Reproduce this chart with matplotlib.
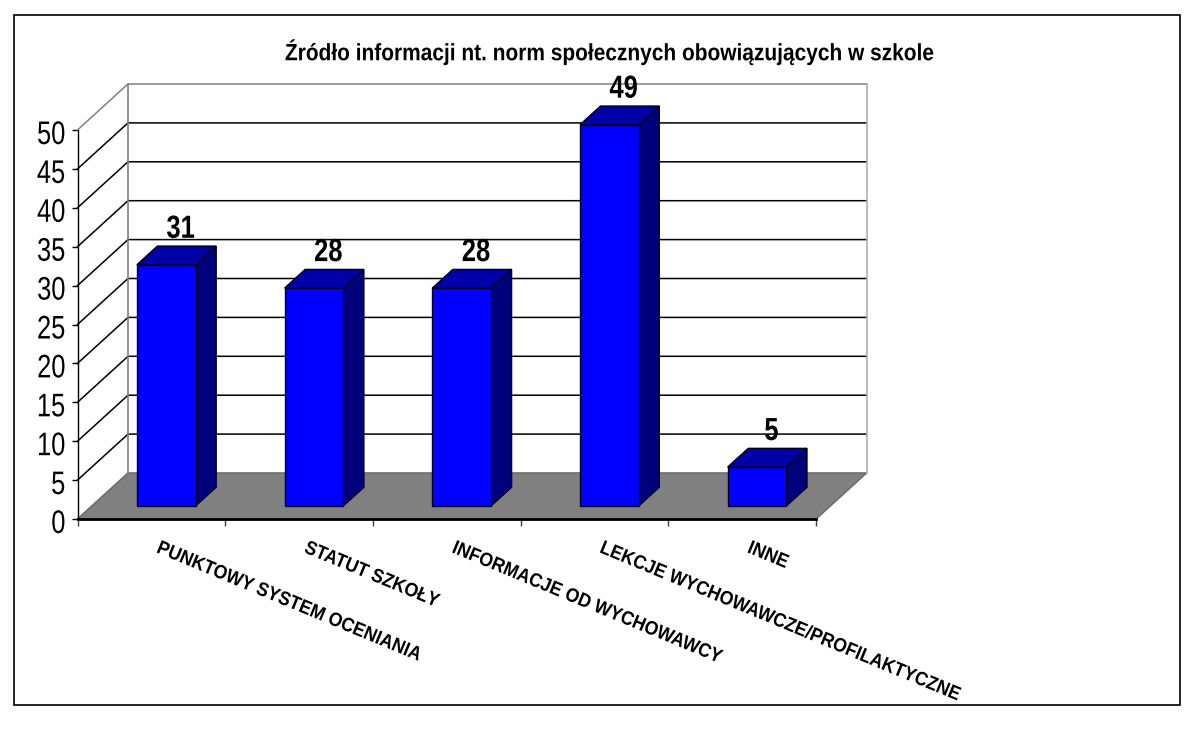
#!/usr/bin/env python
# -*- coding: UTF-8 -*-
import matplotlib
matplotlib.use('Agg')
import matplotlib.pyplot as plt
from matplotlib.patches import Polygon, Rectangle
from matplotlib.patheffects import AbstractPathEffect
from matplotlib.transforms import Affine2D, ScaledTranslation

title = 'Źródło informacji nt. norm społecznych obowiązujących w szkole'
categories = ['PUNKTOWY SYSTEM OCENIANIA', 'STATUT SZKOŁY', 'INFORMACJE OD WYCHOWAWCY',
              'LEKCJE WYCHOWAWCZE/PROFILAKTYCZNE', 'INNE']
values = [31, 28, 28, 49, 5]
yticks = [0, 5, 10, 15, 20, 25, 30, 35, 40, 45, 50]

W, H = 1194, 730
FONT = 'Liberation Sans'

# front plane of the chart, in pixels of the picture
left, right, top, bottom = 77.5, 816, 130, 519
DX = 50.5 / 147.7   # full depth, in category units
DY = 46 / 7.78      # full depth, in value units
BLUE, DARK, SIDE = '#0000ff', '#0000a8', '#00007c'


class Squeeze(AbstractPathEffect):
    # the reference text is condensed, so squeeze the glyphs sideways
    def __init__(self, sx, anchor=0.5):
        super().__init__()
        self.sx = sx
        self.anchor = anchor

    def draw_path(self, renderer, gc, tpath, affine, rgbFace=None):
        ext = tpath.get_extents()
        cx = ext.x0 + self.anchor * ext.width
        t = Affine2D().translate(-cx, 0).scale(self.sx, 1).translate(cx, 0)
        renderer.draw_path(gc, tpath, t + affine, rgbFace)


def proj(x, y, d):
    return (x + d * DX, y + d * DY)


fig = plt.figure(figsize=(W / 100, H / 100), dpi=100)
fig.patches.append(Rectangle((14 / W, 1 - 705 / H), 1166 / W, 690 / H, transform=fig.transFigure,
                             fill=False, edgecolor='black', linewidth=1.2))
ax = fig.add_axes([left / W, 1 - bottom / H, (right - left) / W, (bottom - top) / H])
ax.patch.set_visible(False)
ax.set_xlim(0, len(categories))
ax.set_ylim(0, 50)

# floor
ax.add_patch(Polygon([proj(0, 0, 0), proj(0, 0, 1), proj(5, 0, 1), proj(5, 0, 0)],
                     facecolor='#808080', edgecolor='#6e6e6e', linewidth=1.2, zorder=1, clip_on=False))

# walls and grid
for v in yticks[1:]:
    col = '#808080' if v == 50 else 'black'
    xs, ys = zip(proj(0, v, 0), proj(0, v, 1), proj(5, v, 1))
    ax.plot(xs, ys, color=col, linewidth=1.1, zorder=2, clip_on=False)
for x, c in ((0, '#808080'), (5, '#b0b0b0')):
    xs, ys = zip(proj(x, 0, 1), proj(x, 50, 1))
    ax.plot(xs, ys, color=c, linewidth=1.2, zorder=2, clip_on=False)

# bars
d0, d1 = 0.283, 0.69
for i, v in enumerate(values):
    x0, x1 = i + 0.305, i + 0.703
    front = [proj(x0, 0, d0), proj(x1, 0, d0), proj(x1, v, d0), proj(x0, v, d0)]
    side = [proj(x1, 0, d0), proj(x1, 0, d1), proj(x1, v, d1), proj(x1, v, d0)]
    lid = [proj(x0, v, d0), proj(x1, v, d0), proj(x1, v, d1), proj(x0, v, d1)]
    for pts, col in ((side, SIDE), (lid, DARK), (front, BLUE)):
        ax.add_patch(Polygon(pts, facecolor=col, edgecolor='#000020', linewidth=1.0, zorder=3, clip_on=False))
    t = ax.annotate(str(v), proj((x0 + x1) / 2, v, d0 + 0.7 * (d1 - d0)), xytext=(0, 5), textcoords='offset points',
                    ha='center', va='bottom', fontsize=23, fontweight='bold', family=FONT, zorder=4,
                    annotation_clip=False)
    t.set_path_effects([Squeeze(0.8)])

# axes
for s in ('top', 'right'):
    ax.spines[s].set_visible(False)
ax.spines['left'].set_linewidth(1.0)
ax.spines['bottom'].set_linewidth(2.0)
ax.spines['left'].set_zorder(5)
ax.spines['bottom'].set_zorder(5)
ax.set_yticks(yticks)
ax.set_xticks(range(len(categories) + 1))
ax.set_xticklabels([])
ax.tick_params(axis='y', length=4, width=1, pad=4.5, labelsize=23.5)
ax.tick_params(axis='x', length=5, width=1, color='#404040')
shift = ScaledTranslation(0, -2 / 100, fig.dpi_scale_trans)
for lab in ax.get_yticklabels():
    lab.set_family(FONT)
    lab.set_transform(lab.get_transform() + shift)
    lab.set_path_effects([Squeeze(0.78, 1.0)])

for i, name in enumerate(categories):
    t = ax.annotate(name, (i, 0), xytext=(83 * 0.72, -21 * 0.72), textcoords='offset points',
                    rotation=-22.5, rotation_mode='anchor', ha='left', va='top',
                    fontsize=14, fontweight='bold', family=FONT, annotation_clip=False)
    t.set_path_effects([Squeeze(0.91, 0.0)])

t = fig.text(610 / W, 1 - 52 / H, title, ha='center', va='center', fontsize=17, fontweight='bold', family=FONT)
t.set_path_effects([Squeeze(0.885)])

fig.savefig('out.png', dpi=100, facecolor='white')
